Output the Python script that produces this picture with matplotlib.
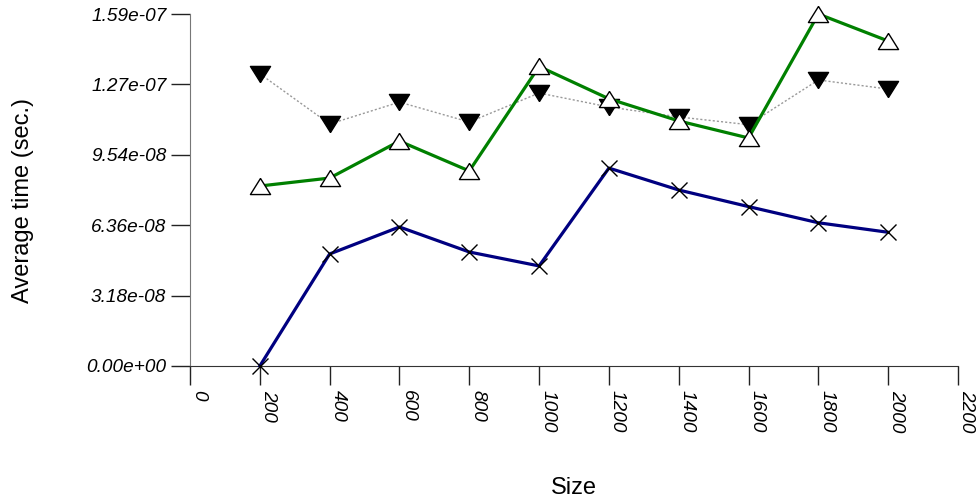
import matplotlib
matplotlib.use("Agg")
import matplotlib.pyplot as plt

plt.rcParams['font.family'] = ['Liberation Sans', 'DejaVu Sans']

sizes = [200, 400, 600, 800, 1000, 1200, 1400, 1600, 1800, 2000]
t_blue = [0.0, 5.06e-8, 6.28e-8, 5.15e-8, 4.52e-8, 8.94e-8, 7.95e-8, 7.20e-8, 6.47e-8, 6.04e-8]
t_green = [8.13e-8, 8.49e-8, 1.016e-7, 8.81e-8, 1.353e-7, 1.207e-7, 1.107e-7, 1.03e-7, 1.59e-7, 1.468e-7]
t_black = [1.32e-7, 1.093e-7, 1.192e-7, 1.102e-7, 1.233e-7, 1.17e-7, 1.125e-7, 1.09e-7, 1.292e-7, 1.251e-7]

ymax = max(t_blue + t_green + t_black)
yticks = [ymax * i / 5 for i in range(6)]
xticks = list(range(0, 2201, 200))

fig = plt.figure(figsize=(9.76, 4.99), dpi=100)
ax = fig.add_axes([190/976, 133/499, 768/976, 352/499])

# flattened triangles, closed so the outline is complete
up = [(0, 0.8), (-1, -0.8), (1, -0.8), (0, 0.8)]
down = [(0, -0.8), (-1, 0.8), (1, 0.8), (0, -0.8)]

ax.plot(sizes, t_black, color='#999999', lw=1, ls=(0, (1.5, 1.5)),
        marker=down, ms=14.5, mfc='black', mec='black', clip_on=False, zorder=2)
ax.plot(sizes, t_green, color='#008000', lw=2.3,
        marker=up, ms=14.5, mfc='white', mec='black', mew=1, clip_on=False, zorder=3)
ax.plot(sizes, t_blue, color='#000080', lw=2.3,
        marker='x', ms=11.5, mec='black', mew=1, clip_on=False, zorder=4)

ax.set_xlim(0, 2200)
ax.set_ylim(0, ymax)
ax.set_xticks(xticks)
ax.set_xticklabels([str(x) for x in xticks], rotation=-90, ha='left', va='top',
                   style='italic', fontsize=13.7)
ax.set_yticks(yticks)
ax.set_yticklabels(['%.2e' % v for v in yticks], style='italic', fontsize=13.7)
ax.tick_params(axis='both', length=14, width=1, pad=3, color='#222222')

for s in ['top', 'right']:
    ax.spines[s].set_visible(False)
ax.spines['left'].set_color('#777777')
ax.spines['bottom'].set_color('#333333')

ax.set_xlabel('Size', fontsize=17)
ax.set_ylabel('Average time (sec.)', fontsize=17)
ax.xaxis.set_label_coords(0.5, -0.315)
ax.yaxis.set_label_coords(-0.203, 0.47)

fig.savefig('out.png', dpi=100)
